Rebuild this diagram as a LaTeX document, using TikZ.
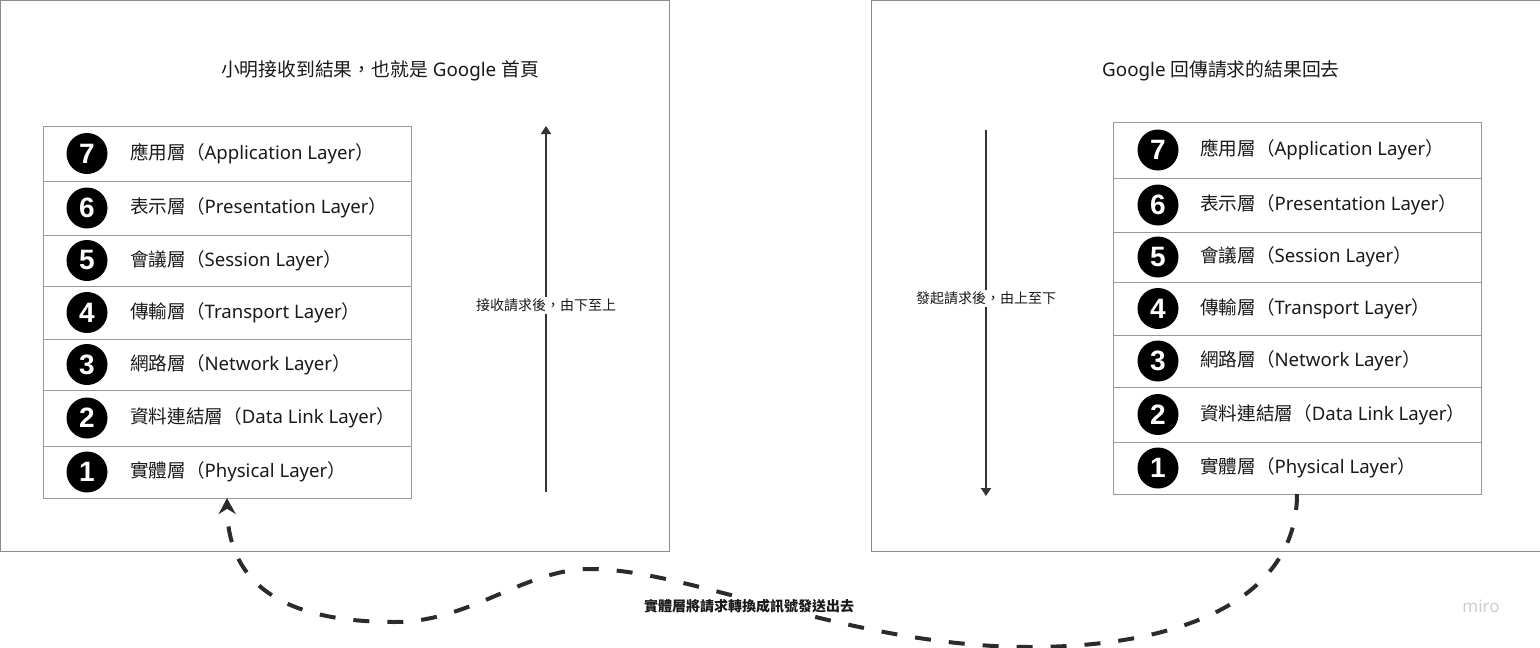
\documentclass[tikz,border=0pt]{standalone}
\usepackage{fontspec}
\setmainfont{Noto Sans}
\newfontfamily\cjk{Noto Sans CJK TC}
\newfontfamily\numfont{Liberation Sans}
\usetikzlibrary{arrows.meta}
\definecolor{framegray}{HTML}{8C8C8C}
\definecolor{rowgray}{HTML}{999999}
\definecolor{ink}{HTML}{1A1A1A}
\definecolor{arrowgray}{HTML}{333333}
\definecolor{signalink}{HTML}{2B2B2B}
\definecolor{mirogray}{HTML}{CDCDD5}
\tikzset{
  frame/.style={draw=framegray, line width=1pt, inner sep=0pt, outer sep=0pt},
  layerrow/.style={draw=rowgray, line width=1pt, minimum width=368pt, inner sep=0pt, outer sep=0pt},
  numdot/.style={circle, fill=black, minimum size=41pt, inner sep=0pt, text=white, font=\numfont\bfseries\fontsize{28}{28}\selectfont},
  layertext/.style={anchor=west, inner sep=0pt, text=ink, font=\fontsize{18.6}{20}\selectfont},
  titletext/.style={inner sep=0pt, text=ink, font=\fontsize{18.8}{20}\selectfont},
  flow/.style={draw=arrowgray, line width=2pt, -{Triangle[length=8pt,width=10pt]}},
  steplabel/.style={fill=white, inner sep=2pt, text=ink, font=\cjk\fontsize{14}{16}\selectfont},
  signal/.style={draw=signalink, line width=4pt, dash pattern=on 16pt off 18pt, -{Stealth[length=16pt,width=17pt]}},
  signallabel/.style={fill=white, inner sep=2pt, text=ink, font=\cjk\bfseries\fontsize{14}{16}\selectfont},
}
\begin{document}
\begin{tikzpicture}[x=1pt,y=-1pt]
\useasboundingbox (0,0) rectangle (1540,648);
\fill[white] (0,0) rectangle (1540,648);

% frames
\node[frame, minimum width=669pt, minimum height=551pt] (lframe) at (334.5,275.5) {};
\node[frame, minimum width=669pt, minimum height=551pt] (rframe) at (1205.5,275.5) {};

% titles
\node[titletext] (ltitle) at (380,71) {{\cjk 小明接收到結果，也就是} Google {\cjk 首頁}};
\node[titletext] (rtitle) at (1221,71) {Google {\cjk 回傳請求的結果回去}};

% stacks: index / left bottom / left top / right bottom / right top / cjk / latin
\foreach \i/\lb/\lt/\rb/\rt/\zh/\en in {
  1/498/446/494/442/實體層/Physical Layer,
  2/446/390/442/387/資料連結層/Data Link Layer,
  3/390/339/387/335/網路層/Network Layer,
  4/339/286/335/282/傳輸層/Transport Layer,
  5/286/235/282/232/會議層/Session Layer,
  6/235/181/232/178/表示層/Presentation Layer,
  7/181/126/178/122/應用層/Application Layer}{
  \pgfmathsetmacro{\yl}{(\lb+\lt)/2}
  \pgfmathsetmacro{\hl}{\lb-\lt}
  \pgfmathsetmacro{\yr}{(\rb+\rt)/2}
  \pgfmathsetmacro{\hr}{\rb-\rt}
  \node[layerrow, minimum height=\hl pt] (L\i) at (227,\yl) {};
  \node[numdot] (LC\i) at (87,\yl) {\i};
  \node[layertext] (LT\i) at (130,\yl) {{\cjk \zh（}\en{\cjk ）}};
  \node[layerrow, minimum height=\hr pt] (R\i) at (1297,\yr) {};
  \node[numdot] (RC\i) at (1158,\yr) {\i};
  \node[layertext] (RT\i) at (1200,\yr) {{\cjk \zh（}\en{\cjk ）}};
}

% vertical flow arrows
\coordinate (lup0) at (546,492);
\coordinate (lup1) at (546,126);
\draw[flow] (lup0) -- (lup1) node[pos=0.51, steplabel] (lupl) {接收請求後，由下至上};
\coordinate (rdn0) at (986,130);
\coordinate (rdn1) at (986,496);
\draw[flow] (rdn0) -- (rdn1) node[pos=0.46, steplabel] (rdnl) {發起請求後，由上至下};

% signal curve
\draw[signal] (R1.south) .. controls (1297,600) and (1180,647) .. (1030,647)
  .. controls (850,647) and (690,569) .. (590,569)
  .. controls (525,569) and (470,622) .. (395,622)
  .. controls (300,622) and (228,595) .. (L1.south);
\node[signallabel] (sig) at (749,606) {實體層將請求轉換成訊號發送出去};

% logo
\node[inner sep=0pt, text=mirogray, font=\bfseries\fontsize{17}{18}\selectfont] (miro) at (1481,606) {miro};
\end{tikzpicture}
\end{document}
